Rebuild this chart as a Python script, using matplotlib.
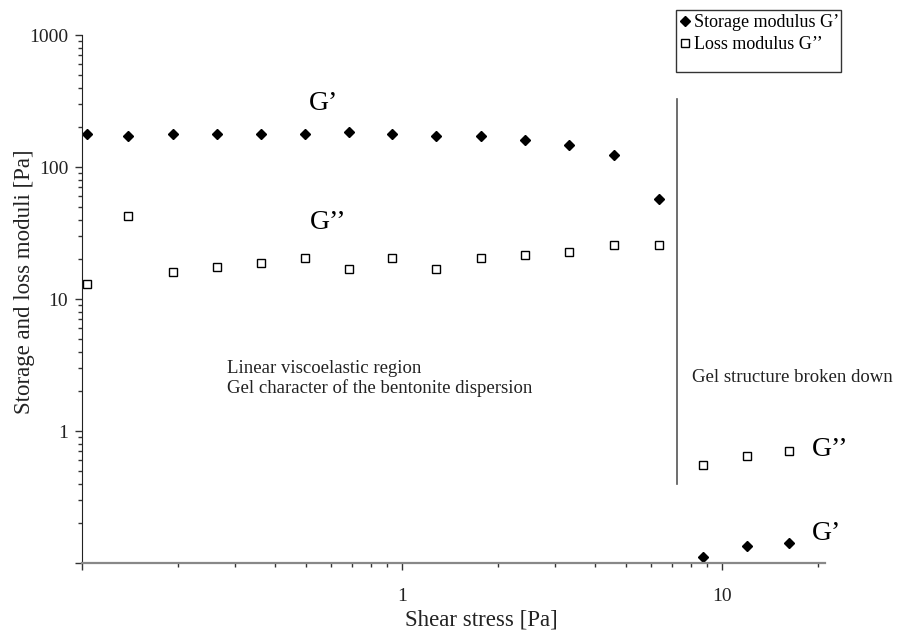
import matplotlib
matplotlib.use("Agg")
import matplotlib.pyplot as plt
from matplotlib.patches import Rectangle
from matplotlib.ticker import LogLocator, NullFormatter

plt.rcParams['font.family'] = ['Liberation Serif', 'DejaVu Serif']

# Amplitude sweep of the bentonite dispersion
shear_stress = [0.104, 0.139, 0.192, 0.264, 0.362, 0.497, 0.683, 0.931, 1.28,
                1.77, 2.42, 3.33, 4.60, 6.35, 8.72, 11.97, 16.2]
storage_mod = [178, 172, 178, 178, 178, 178, 184, 178, 172,
               172, 160, 147, 123, 57, 0.111, 0.135, 0.142]
loss_mod = [13.0, 42.5, 16.0, 17.5, 18.7, 20.5, 16.9, 20.5, 16.9,
            20.5, 21.5, 22.7, 25.6, 25.6, 0.553, 0.647, 0.705]

# yield point marker (x, y range)
yield_stress = 7.23
yield_line_span = [0.4, 325]

x_ticks = [0.1, 1, 10]
x_tick_labels = ['', '1', '10']
y_ticks = [0.1, 1, 10, 100, 1000]
y_tick_labels = ['', '1', '10', '100', '1000']

fig = plt.figure(figsize=(8.98, 6.36), dpi=100)
ax = fig.add_axes([82 / 898, 1 - 563 / 636, 743 / 898, 528 / 636])

ax.set_xscale('log')
ax.set_yscale('log')
ax.set_xlim(0.1, 21)
ax.set_ylim(0.1, 1000)

ax.plot(shear_stress, storage_mod, 'D', color='black', markersize=5,
        label="Storage modulus G\u2019", clip_on=False)
ax.plot(shear_stress, loss_mod, 's', markerfacecolor='white',
        markeredgecolor='black', markeredgewidth=1.0, markersize=6,
        label="Loss modulus G\u2019\u2019", clip_on=False)

ax.plot([yield_stress, yield_stress], yield_line_span, color='#555555', lw=1.2)

# region annotations
ax.text(0.284, 2.5, "Linear viscoelastic region\nGel character of the bentonite dispersion",
        fontsize=13.5, va='center', ha='left', linespacing=1.15, color='#222222')
ax.text(8.06, 2.56, "Gel structure broken down", fontsize=13.5,
        va='center', ha='left', color='#222222')
ax.text(0.51, 305, "G\u2019", fontsize=20, va='center', ha='left')
ax.text(0.516, 37.7, "G\u2019\u2019", fontsize=20, va='center', ha='left')
ax.text(19.1, 0.73, "G\u2019\u2019", fontsize=20, va='center', ha='left')
ax.text(19.1, 0.166, "G\u2019", fontsize=20, va='center', ha='left')

# axes styling
for side in ['top', 'right']:
    ax.spines[side].set_visible(False)
ax.spines['left'].set_color('#222222')
ax.spines['bottom'].set_color('#888888')
ax.spines['bottom'].set_linewidth(1.6)

ax.set_xticks(x_ticks)
ax.set_xticklabels(x_tick_labels)
ax.set_yticks(y_ticks)
ax.set_yticklabels(y_tick_labels)
ax.xaxis.set_minor_locator(LogLocator(base=10, subs=range(2, 10)))
ax.yaxis.set_minor_locator(LogLocator(base=10, subs=range(2, 10)))
ax.xaxis.set_minor_formatter(NullFormatter())
ax.yaxis.set_minor_formatter(NullFormatter())
ax.tick_params(axis='both', which='major', direction='out', length=5,
               width=1, colors='#333333', labelsize=14, labelcolor='#222222')
ax.tick_params(axis='both', which='minor', direction='out', length=3,
               width=1, colors='#333333')
ax.tick_params(axis='x', which='major', pad=13)
ax.tick_params(axis='y', which='major', pad=5)

ax.set_xlabel("Shear stress [Pa]", fontsize=16.5, va='center', color='#222222')
ax.xaxis.set_label_coords(0.538, -0.108)
ax.set_ylabel("Storage and loss moduli [Pa]", fontsize=16.5, va='center',
              color='#222222')
ax.yaxis.set_label_coords(-0.078, 0.532)

# legend entries without frame, box drawn separately
leg = ax.legend(loc='upper right', bbox_to_anchor=(839 / 898, 1 - 14 / 636),
                bbox_transform=fig.transFigure, fontsize=13, frameon=False,
                handlelength=0.6, handletextpad=0.2, labelspacing=0.3,
                borderpad=0.0, borderaxespad=0)
fig.patches.append(Rectangle((676 / 898, 1 - 72 / 636), 165 / 898, 62 / 636,
                             transform=fig.transFigure, fill=False,
                             edgecolor='#333333', linewidth=1.0))

fig.savefig('out.png', dpi=100)
